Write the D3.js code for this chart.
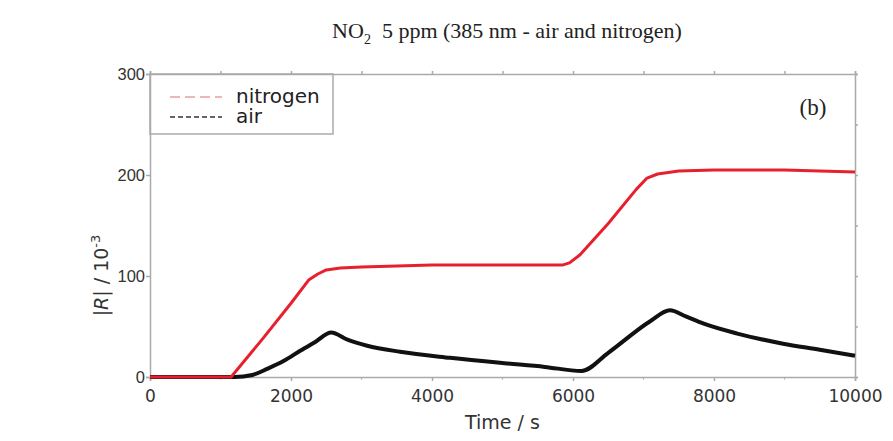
<!DOCTYPE html>
<html>
<head>
<meta charset="utf-8">
<script src="https://cdn.jsdelivr.net/npm/d3@7"></script>
<style>
  body { margin: 0; background: #fff; }
  svg { display: block; }
</style>
</head>
<body>
<svg width="893" height="441"></svg>
<script>
// values (time in s, |R| in 10^-3)
const nitrogenTime = [0, 1000, 1150, 1600, 2000, 2250, 2380, 2500, 2700, 3000, 4000, 5000, 5860, 5950, 6100, 6500, 6900, 7050, 7200, 7500, 8000, 9000, 10000];
const nitrogenValue = [0, 0, 0, 38, 73, 96, 102, 106, 108, 109, 111, 111, 111, 113, 121, 152, 186, 197, 201, 204, 205, 205, 203];
const airTime = [0, 1000, 1200, 1450, 1660, 1900, 2130, 2350, 2570, 2800, 3080, 3545, 4255, 4965, 5600, 6120, 6500, 7090, 7375, 7600, 7845, 8330, 8980, 9500, 10000];
const airValue = [0, 0, 0, 2, 8, 16, 26, 35, 44, 37, 31, 25, 19, 14, 10, 6, 24, 55, 66, 60, 53, 43, 33, 27, 21];
const xTicks = [0, 2000, 4000, 6000, 8000, 10000];
const yTicks = [0, 100, 200, 300];

const svg = d3.select('svg');
const margin = {top: 74, right: 38, bottom: 64, left: 150};
const width = +svg.attr('width');
const height = +svg.attr('height');
const innerWidth = width - margin.left - margin.right;
const innerHeight = height - margin.top - margin.bottom;

const xScale = d3.scaleLinear().domain([0, 10000]).range([0, innerWidth]);
const yScale = d3.scaleLinear().domain([0, 300]).range([innerHeight, 0]);

const g = svg.append('g')
    .attr('transform', `translate(${margin.left}, ${margin.top})`);

const axisColor = '#aaa';
const sans = 'DejaVu Sans, Verdana, sans-serif';
const serif = 'Liberation Serif, Times New Roman, serif';

// bottom axis with minor ticks
const xMinor = d3.range(0, 10001, 1000);
const xAxisG = g.append('g')
    .attr('transform', `translate(0, ${innerHeight})`)
    .call(d3.axisBottom(xScale).tickValues(xTicks).tickSize(4).tickFormat(d3.format('d')));
xAxisG.selectAll('path, line').attr('stroke', axisColor).attr('stroke-width', 1.5);
xAxisG.selectAll('text')
    .attr('font-family', sans)
    .attr('font-size', 17)
    .attr('fill', '#333')
    .attr('dy', '1.05em');

const yAxisG = g.append('g')
    .call(d3.axisLeft(yScale).tickValues(yTicks).tickSize(4));
yAxisG.selectAll('path, line').attr('stroke', axisColor).attr('stroke-width', 1.5);
yAxisG.selectAll('text')
    .attr('font-family', 'Liberation Sans, Arial, sans-serif')
    .attr('font-size', 16.5)
    .attr('fill', '#333')
    .attr('x', -5);

// frame top and right
const topG = g.append('g')
    .call(d3.axisTop(xScale).tickValues(xMinor).tickSize(3).tickFormat(''));
topG.selectAll('path, line').attr('stroke', axisColor).attr('stroke-width', 1.5);
topG.selectAll('text').remove();
const rightG = g.append('g')
    .attr('transform', `translate(${innerWidth}, 0)`)
    .call(d3.axisRight(yScale).tickValues(d3.range(0, 301, 50)).tickSize(3).tickFormat(''));
rightG.selectAll('path, line').attr('stroke', axisColor).attr('stroke-width', 1.5);
rightG.selectAll('text').remove();

g.append('g').selectAll('line')
    .data(xMinor.filter(d => d % 2000 !== 0))
    .enter().append('line')
        .attr('x1', d => xScale(d)).attr('x2', d => xScale(d))
        .attr('y1', innerHeight).attr('y2', innerHeight + 2.5)
        .attr('stroke', axisColor).attr('stroke-width', 1.2);

// lines
const smooth = d3.line()
    .x(d => xScale(d[0]))
    .y(d => yScale(d[1]))
    .curve(d3.curveMonotoneX);
const straight = d3.line()
    .x(d => xScale(d[0]))
    .y(d => yScale(d[1]));

g.append('path')
    .datum(airTime.map((t, i) => [t, airValue[i]]))
    .attr('d', smooth)
    .attr('fill', 'none')
    .attr('stroke', '#111')
    .attr('stroke-width', 4)
    .attr('stroke-linejoin', 'round');

g.append('path')
    .datum(nitrogenTime.map((t, i) => [t, nitrogenValue[i]]))
    .attr('d', straight)
    .attr('fill', 'none')
    .attr('stroke', '#e8202e')
    .attr('stroke-width', 3)
    .attr('stroke-linejoin', 'round');

// legend
const legend = g.append('g');
legend.append('rect')
    .attr('x', 0).attr('y', 0)
    .attr('width', 183).attr('height', 60)
    .attr('fill', 'none')
    .attr('stroke', axisColor)
    .attr('stroke-width', 1.5);
const legendItems = [
    {name: 'nitrogen', color: '#e8a0a4', dash: '10,5'},
    {name: 'air', color: '#333', dash: '5,3'}
];
legendItems.forEach((d, i) => {
    const y = 23 + i * 20;
    legend.append('line')
        .attr('x1', 20).attr('x2', 72)
        .attr('y1', y).attr('y2', y)
        .attr('stroke', d.color)
        .attr('stroke-width', 1.5)
        .attr('stroke-dasharray', d.dash);
    legend.append('text')
        .text(d.name)
        .attr('x', 86).attr('y', y + 6)
        .attr('font-family', sans)
        .attr('font-size', 20)
        .attr('fill', '#222');
});

g.append('text')
    .text('(b)')
    .attr('x', innerWidth - 42).attr('y', 41)
    .attr('text-anchor', 'middle')
    .attr('font-family', serif)
    .attr('font-size', 23)
    .attr('fill', '#222');

// axis labels
g.append('text')
    .text('Time / s')
    .attr('x', innerWidth / 2)
    .attr('y', innerHeight + 52)
    .attr('text-anchor', 'middle')
    .attr('font-family', sans)
    .attr('font-size', 19)
    .attr('fill', '#333');

const yLabel = g.append('text')
    .attr('transform', `translate(-42, ${innerHeight / 2 + 50}) rotate(-90)`)
    .attr('text-anchor', 'middle')
    .attr('font-family', sans)
    .attr('font-size', 19)
    .attr('fill', '#333')
    .style('white-space', 'pre');
yLabel.append('tspan').text('|');
yLabel.append('tspan').text('R').attr('font-style', 'italic');
yLabel.append('tspan').text('| / 10');
yLabel.append('tspan').text('-3').attr('dy', -8).attr('font-size', 13);

// title
const title = svg.append('text')
    .attr('x', 507).attr('y', 38)
    .attr('text-anchor', 'middle')
    .attr('font-family', serif)
    .attr('font-size', 22)
    .attr('fill', '#222')
    .style('white-space', 'pre');
title.append('tspan').text('NO');
title.append('tspan').text('2').attr('dy', 6).attr('font-size', 14);
title.append('tspan').text('  5 ppm (385 nm - air and nitrogen)').attr('dy', -6);
</script>
</body>
</html>
